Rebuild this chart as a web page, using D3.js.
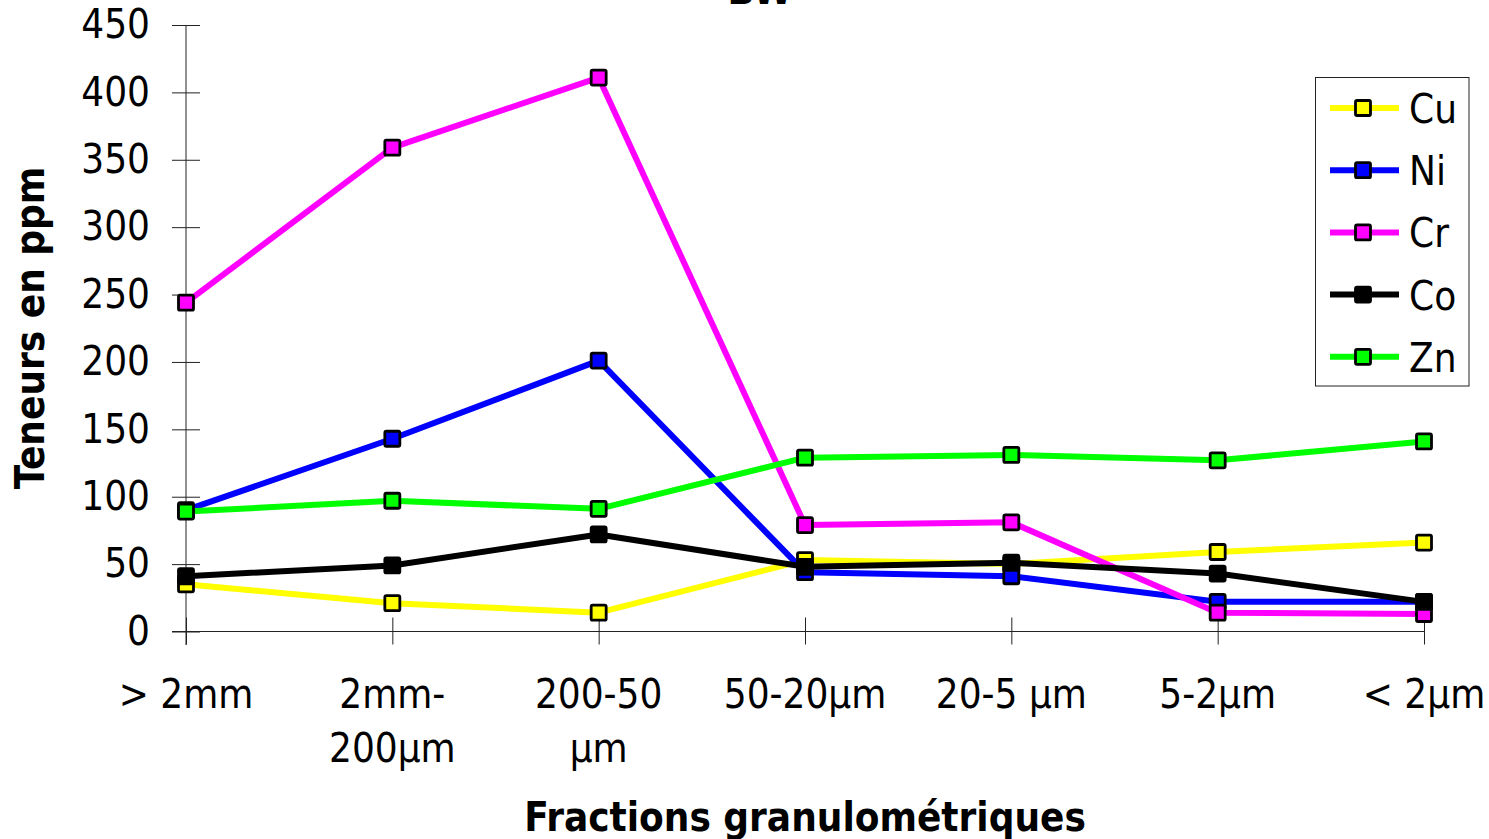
<!DOCTYPE html>
<html>
<head>
<meta charset="utf-8">
<script src="https://cdn.jsdelivr.net/npm/d3@7"></script>
<style>
  html, body { margin: 0; padding: 0; background: #fff; }
  svg { display: block; }
  text { font-family: "DejaVu Sans Condensed", "DejaVu Sans", sans-serif; font-stretch: condensed; fill: #000; }
</style>
</head>
<body>
<svg id="chart" width="1489" height="839"></svg>
<script>
// Size fractions (x categories), each label split into display lines
const categories = ["> 2mm", "2mm-200µm", "200-50 µm", "50-20µm", "20-5 µm", "5-2µm", "< 2µm"];
const categoryLines = [["> 2mm"], ["2mm-", "200µm"], ["200-50", "µm"], ["50-20µm"], ["20-5 µm"], ["5-2µm"], ["< 2µm"]];

// Element contents (ppm) per fraction
const cu = [35, 21, 14, 53, 50, 59, 66];
const ni = [90, 143, 201, 44, 41, 22, 22];
const cr = [244, 359, 411, 79, 81, 14, 13];
const co = [41, 49, 72, 48, 51, 43, 22];
const zn = [89, 97, 91, 129, 131, 127, 141];

const seriesNames = ["Cu", "Ni", "Cr", "Co", "Zn"];
const seriesValues = [cu, ni, cr, co, zn];
const seriesColors = ["#ffff00", "#0000ff", "#ff00ff", "#000000", "#00ff00"];

const yTicks = [0, 50, 100, 150, 200, 250, 300, 350, 400, 450];

const svg = d3.select("#chart");

const x = d3.scalePoint().domain(categories).range([186, 1424]).padding(0);
const y = d3.scaleLinear().domain([0, 450]).range([631.5, 25]);

// Title (sits at the very top edge)
svg.append("text")
  .attr("x", 760).attr("y", 4)
  .attr("text-anchor", "middle")
  .attr("font-size", 40).attr("font-weight", "bold")
  .text("BW");

// Y axis
const yAxis = d3.axisLeft(y).tickValues(yTicks).tickSizeInner(14).tickSizeOuter(0).tickPadding(22);
const gy = svg.append("g").attr("transform", "translate(186,0)").call(yAxis);
gy.select(".domain").attr("stroke", "#222").attr("d", `M0,${y(450)}V645`);
gy.selectAll(".tick line").attr("stroke", "#222").attr("x1", 14);
gy.selectAll(".tick text").attr("font-size", 40).attr("font-family", null);

// X axis
const xAxis = d3.axisBottom(x).tickSizeInner(13).tickSizeOuter(0).tickFormat(() => "");
const gx = svg.append("g").attr("transform", `translate(0,${y(0)})`).call(xAxis);
gx.select(".domain").attr("stroke", "#222").attr("d", `M172,0H${x(categories[categories.length - 1])}`);
gx.selectAll(".tick line").attr("stroke", "#222").attr("y1", -14);

// Multi-line category labels
categories.forEach((c, i) => {
  const t = svg.append("text")
    .attr("x", x(c)).attr("y", 708)
    .attr("text-anchor", "middle")
    .attr("font-size", 40);
  categoryLines[i].forEach((ln, j) => {
    t.append("tspan").attr("x", x(c)).attr("dy", j === 0 ? 0 : 54).text(ln);
  });
});

// Axis titles
svg.append("text")
  .attr("x", 805).attr("y", 831)
  .attr("text-anchor", "middle")
  .attr("font-size", 40).attr("font-weight", "bold")
  .text("Fractions granulométriques");

svg.append("text")
  .attr("transform", "translate(44,328) rotate(-90)")
  .attr("text-anchor", "middle")
  .attr("font-size", 40).attr("font-weight", "bold")
  .text("Teneurs en ppm");

// Series lines and markers
const line = d3.line().x((d, i) => x(categories[i])).y(d => y(d));
const ms = 15;

seriesValues.forEach((vals, s) => {
  const g = svg.append("g");
  g.append("path")
    .attr("d", line(vals))
    .attr("fill", "none")
    .attr("stroke", seriesColors[s])
    .attr("stroke-width", 6)
    .attr("stroke-linejoin", "round");
  g.selectAll("rect").data(vals).join("rect")
    .attr("x", (d, i) => x(categories[i]) - ms / 2)
    .attr("y", d => y(d) - ms / 2)
    .attr("width", ms).attr("height", ms)
    .attr("rx", 1.5)
    .attr("fill", seriesColors[s])
    .attr("stroke", "#000").attr("stroke-width", 2.8);
});

// Legend
const lg = svg.append("g");
lg.append("rect")
  .attr("x", 1315.5).attr("y", 77.5)
  .attr("width", 153.5).attr("height", 308.5)
  .attr("fill", "#fff").attr("stroke", "#222").attr("stroke-width", 1);

seriesNames.forEach((name, s) => {
  const cy = 108 + s * 62.2;
  lg.append("line")
    .attr("x1", 1330).attr("x2", 1399)
    .attr("y1", cy).attr("y2", cy)
    .attr("stroke", seriesColors[s]).attr("stroke-width", 6);
  lg.append("rect")
    .attr("x", 1363 - ms / 2).attr("y", cy - ms / 2)
    .attr("width", ms).attr("height", ms).attr("rx", 1.5)
    .attr("fill", seriesColors[s])
    .attr("stroke", "#000").attr("stroke-width", 2.8);
  lg.append("text")
    .attr("x", 1409).attr("y", cy + 15)
    .attr("font-size", 40)
    .text(name);
});
</script>
</body>
</html>
